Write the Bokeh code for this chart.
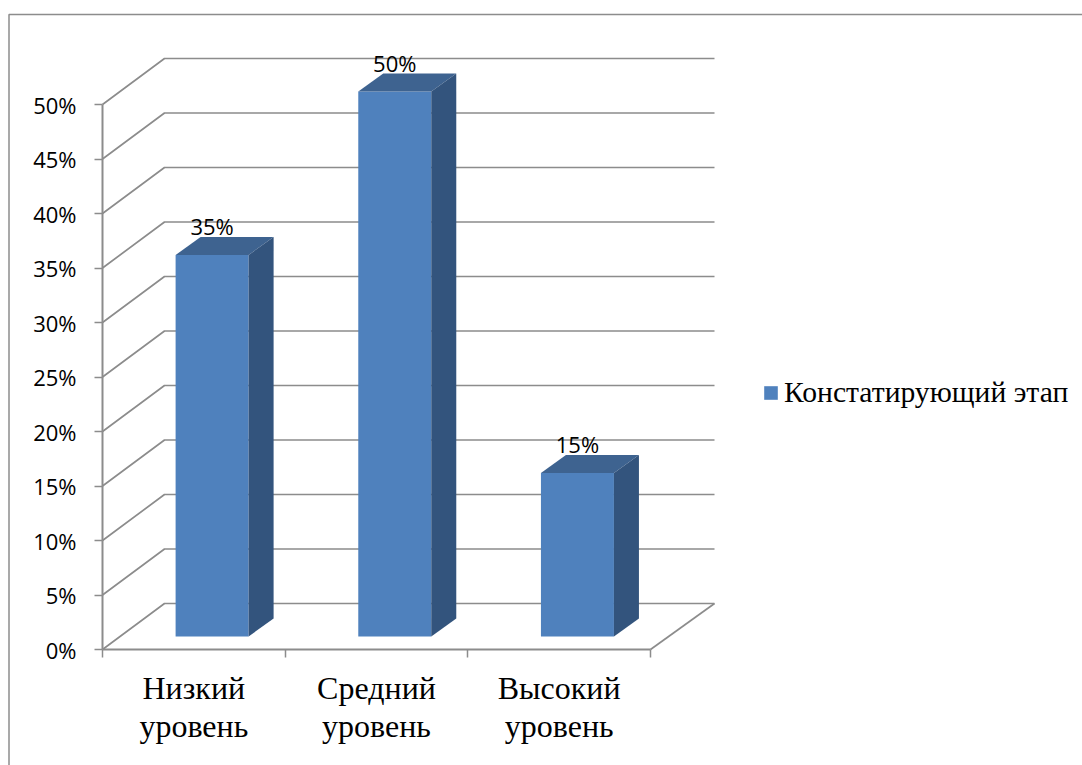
from bokeh.plotting import figure
from bokeh.models import (Range1d, FixedTicker, BoxAnnotation, Legend, LegendItem, ColumnDataSource)
from bokeh.core.properties import value
from bokeh.embed import file_html
from bokeh.resources import INLINE

categories = ["Низкий\nуровень", "Средний\nуровень", "Высокий\nуровень"]
values = [35, 50, 15]
value_labels = ["35%", "50%", "15%"]
y_ticks = [0, 5, 10, 15, 20, 25, 30, 35, 40, 45, 50]
y_labels = ["0%", "5%", "10%", "15%", "20%", "25%", "30%", "35%", "40%", "45%", "50%"]
series_name = "Констатирующий этап"

W, H = 1082, 765
ORIGIN_X, ORIGIN_Y = 102, 649   # where 0/0 falls on the canvas
PX_X = 182.67   # px per category
PX_Y = 10.9     # px per percentage point

# 3D box geometry, in data units
wall_dx, wall_dy = 62 / PX_X, 46 / PX_Y
wall_end_dx = 64 / PX_X
depth_dx, depth_dy = 25 / PX_X, 18 / PX_Y
base_dx, base_dy = 0.1, 13 / PX_Y
half_w = 36.5 / PX_X

GRID = "#8c8c8c"
GRID_W = 1.7
TICK_FONT = "Open Sans"
TICK_SIZE = "22px"

p = figure(width=W, height=H, output_backend="svg", toolbar_location=None,
           x_range=Range1d(-ORIGIN_X / PX_X, (W - ORIGIN_X) / PX_X),
           y_range=Range1d(-(H - ORIGIN_Y) / PX_Y, ORIGIN_Y / PX_Y),
           min_border_left=0, min_border_right=0, min_border_top=0, min_border_bottom=0)
p.outline_line_color = None
p.grid.visible = False

xa = p.xaxis[0]
xa.fixed_location = 0
xa.ticker = FixedTicker(ticks=[i + 0.5 for i in range(len(categories))],
                        minor_ticks=list(range(len(categories) + 1)))
xa.major_label_overrides = {i + 0.5: c for i, c in enumerate(categories)}
xa.major_tick_out = 0
xa.major_tick_in = 0
xa.minor_tick_out = 8
xa.minor_tick_in = 0
xa.minor_tick_line_color = GRID
xa.minor_tick_line_width = 1.5
xa.axis_line_color = GRID
xa.axis_line_width = 2
xa.bounds = (0, len(categories))
xa.major_label_text_font = "Liberation Serif"
xa.major_label_text_font_size = "32px"
xa.major_label_text_color = "#000000"
xa.major_label_text_line_height = 1.08
xa.major_label_standoff = 12

ya = p.yaxis[0]
ya.fixed_location = 0
ya.ticker = FixedTicker(ticks=y_ticks, minor_ticks=[])
ya.major_label_overrides = dict(zip(y_ticks, y_labels))
ya.major_tick_out = 8
ya.major_tick_in = 0
ya.major_tick_line_color = GRID
ya.major_tick_line_width = 1.5
ya.axis_line_color = GRID
ya.axis_line_width = 2
ya.bounds = (0, max(y_ticks))
ya.major_label_text_font = TICK_FONT
ya.major_label_text_font_size = TICK_SIZE
ya.major_label_text_color = "#000000"
ya.major_label_standoff = 18

# chart-area border, runs off to the right and bottom
p.add_layout(BoxAnnotation(left=8.5, right=W + 20, top=14, bottom=H + 20,
                           left_units="canvas", right_units="canvas",
                           top_units="canvas", bottom_units="canvas",
                           fill_alpha=0, line_color=GRID, line_alpha=1, line_width=1.5))

# back-wall gridlines and floor
n = len(categories)
p.multi_line(xs=[[0, wall_dx, n + wall_end_dx] for _ in y_ticks],
             ys=[[v, v + wall_dy, v + wall_dy] for v in y_ticks],
             line_color=GRID, line_width=GRID_W)
p.line(x=[n, n + wall_end_dx], y=[0, wall_dy], line_color=GRID, line_width=GRID_W)

# bars
lefts = [i + 0.5 + base_dx - half_w for i in range(n)]
rights = [i + 0.5 + base_dx + half_w for i in range(n)]
front = p.patches(xs=[[l, r, r, l] for l, r in zip(lefts, rights)],
                  ys=[[base_dy, base_dy, v + base_dy, v + base_dy] for v in values],
                  fill_color="#4f81bd", line_color=None)
p.patches(xs=[[l, r, r + depth_dx, l + depth_dx] for l, r in zip(lefts, rights)],
          ys=[[v + base_dy, v + base_dy, v + base_dy + depth_dy, v + base_dy + depth_dy] for v in values],
          fill_color="#3e6390", line_color=None)
p.patches(xs=[[r, r + depth_dx, r + depth_dx, r] for r in rights],
          ys=[[base_dy, base_dy + depth_dy, v + base_dy + depth_dy, v + base_dy] for v in values],
          fill_color="#33547d", line_color=None)

# value labels
src = ColumnDataSource(dict(x=[(l + r) / 2 for l, r in zip(lefts, rights)],
                            y=[v + base_dy for v in values], t=value_labels))
p.text(x="x", y="y", text="t", source=src, text_align="center", text_baseline="middle",
       y_offset=-29, text_font=value(TICK_FONT), text_font_size=TICK_SIZE, text_color="#000000")

legend = Legend(items=[LegendItem(label=series_name, renderers=[front], index=0)],
                location=(762, 356), orientation="vertical",
                glyph_width=17, glyph_height=17, label_standoff=5,
                padding=0, margin=0, spacing=0, border_line_color=None,
                background_fill_alpha=0,
                label_text_font="Liberation Serif", label_text_font_size="29.6px",
                label_text_color="#000000")
p.add_layout(legend)

open("out.html", "w").write(file_html(p, INLINE))
